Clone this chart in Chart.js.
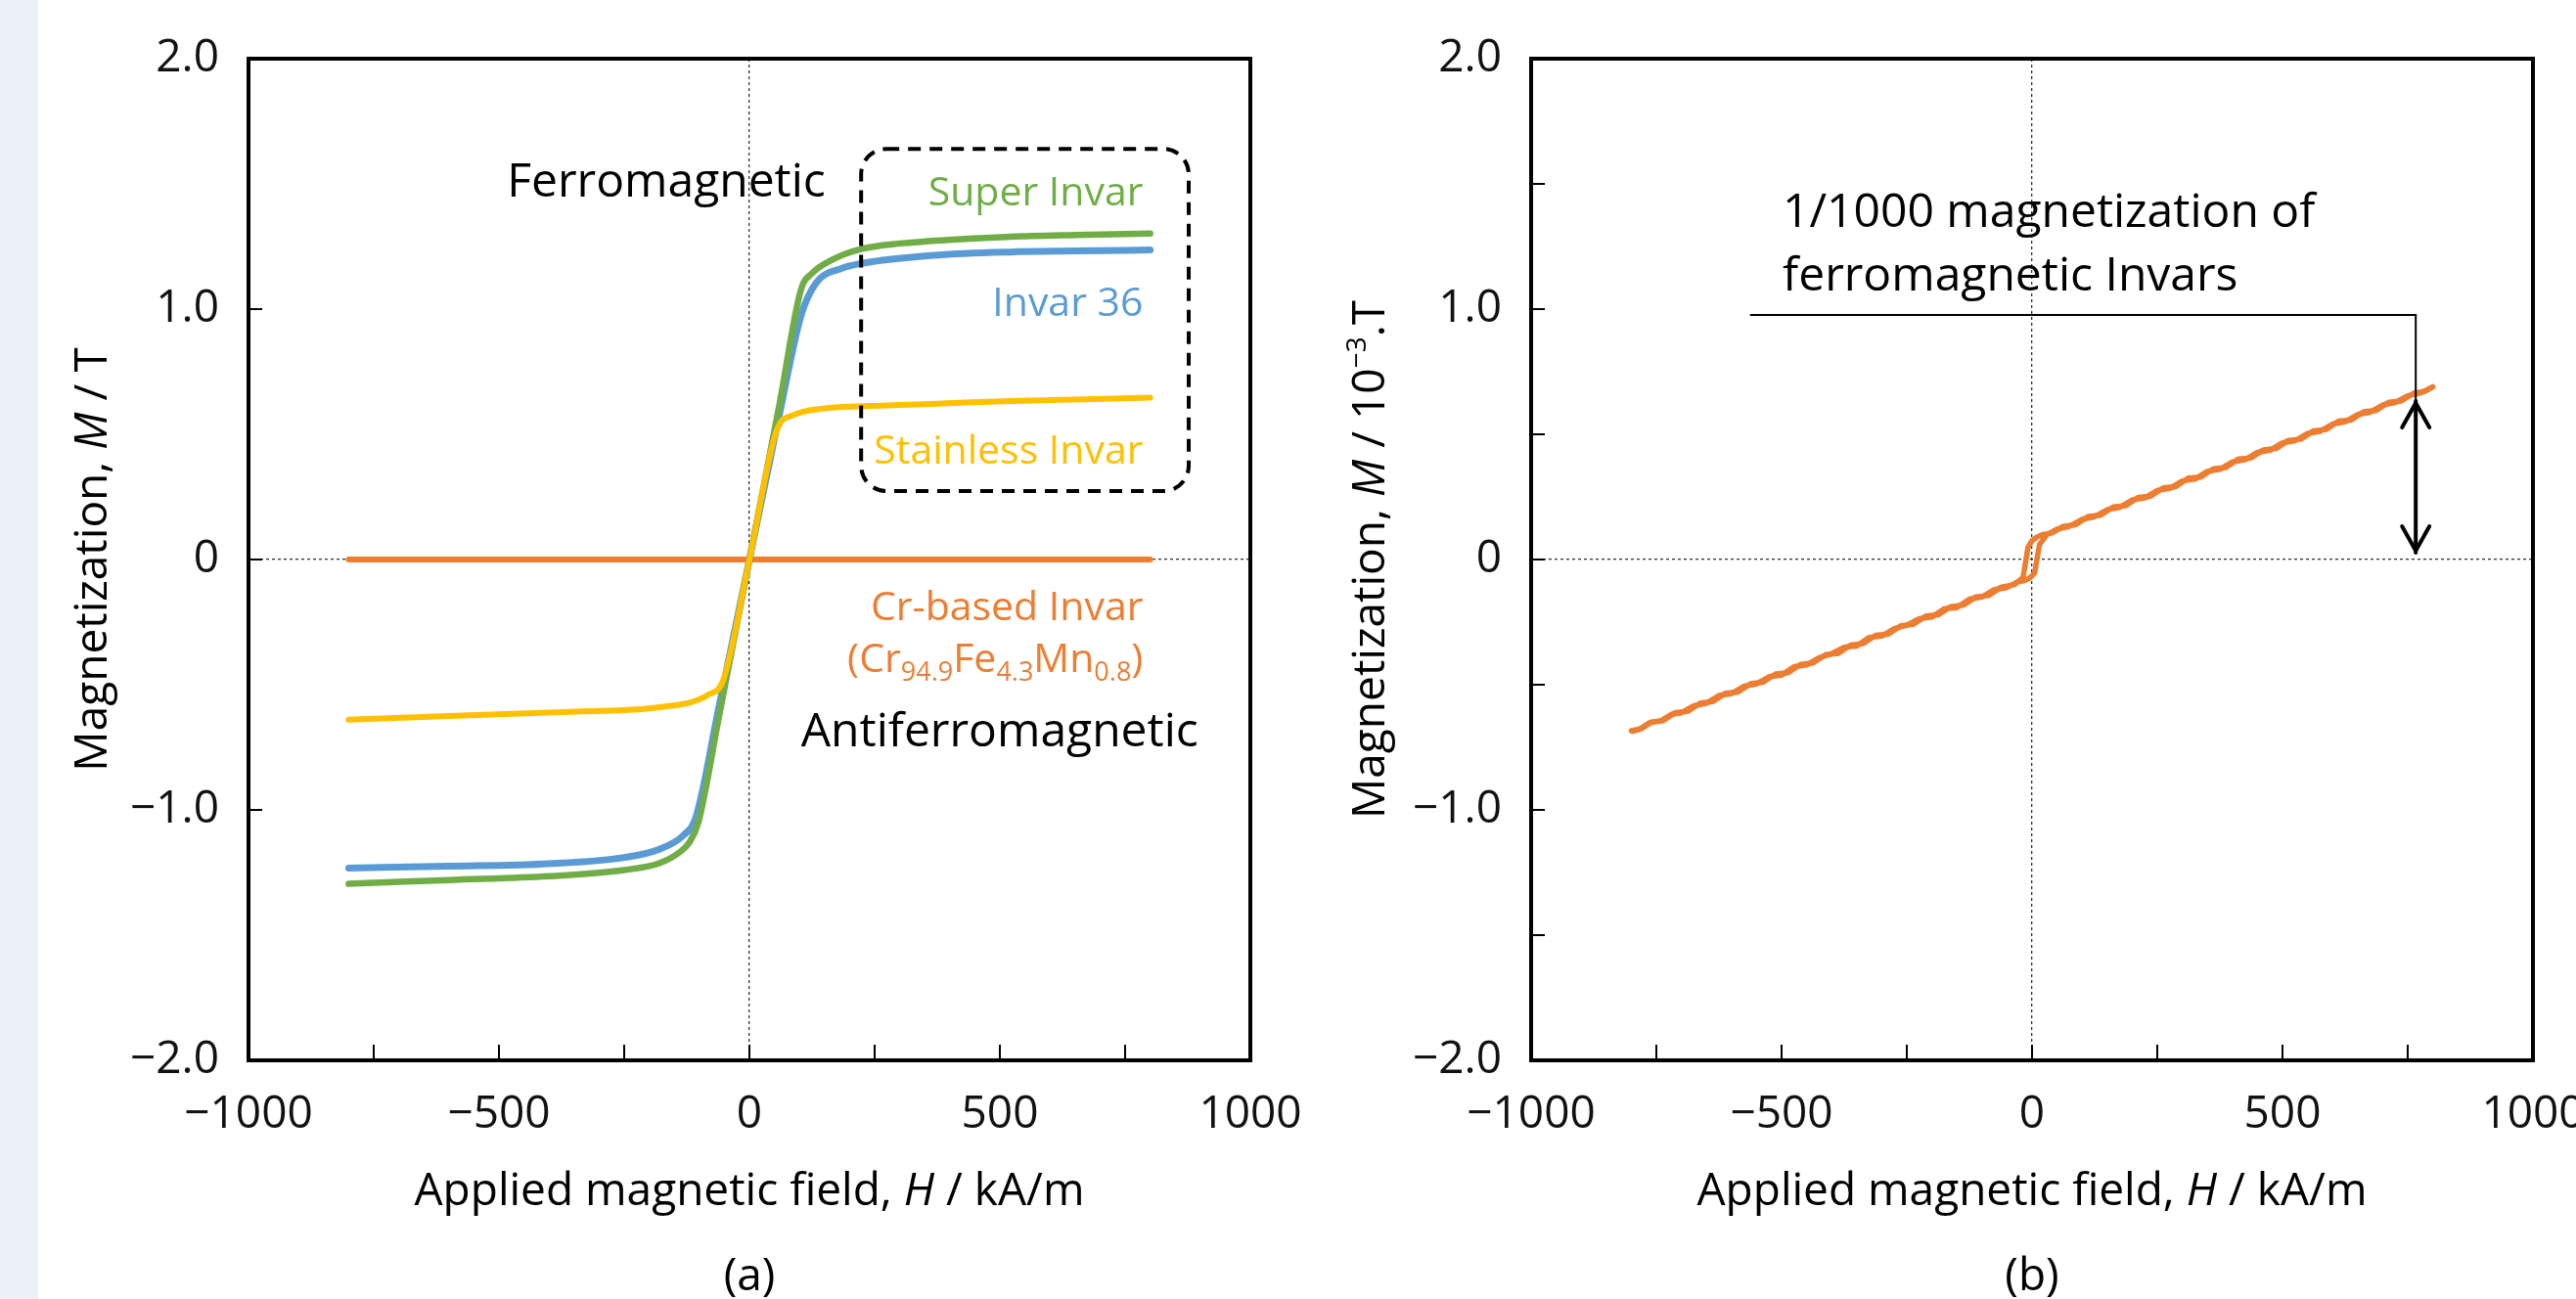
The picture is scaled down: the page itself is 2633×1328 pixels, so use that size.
<!DOCTYPE html>
<html><head><meta charset="utf-8">
<script src="https://cdn.jsdelivr.net/npm/chart.js@4.4.0/dist/chart.umd.min.js"></script>
<style>
html,body{margin:0;padding:0;background:#fff;width:2633px;height:1328px;overflow:hidden;}
#strip{position:absolute;left:0;top:0;width:39px;height:1328px;background:#EAF1F8;}
#ca{position:absolute;left:0;top:0;}
#cb{position:absolute;left:1320px;top:0;}
</style></head><body>
<div id="strip"></div>
<canvas id="ca" width="1400" height="1328"></canvas>
<canvas id="cb" width="1313" height="1328"></canvas>
<script>
// ---------- Panel (a) data: H (kA/m), M (T) ----------
const superH = [-800,-600,-400,-250,-180,-140,-120,-102,-60,0,60,103,125,163,223,372,521,650,800];
const superM = [-1.295,-1.28,-1.265,-1.24,-1.213,-1.17,-1.13,-1.05,-0.62,0.0,0.62,1.078,1.143,1.195,1.24,1.273,1.289,1.296,1.302];
const invarH = [-800,-600,-400,-250,-180,-131,-107,-60,0,60,103,133,185,223,372,521,650,800];
const invarM = [-1.232,-1.225,-1.215,-1.19,-1.157,-1.10,-1.03,-0.58,0,0.58,0.974,1.104,1.163,1.182,1.215,1.228,1.232,1.236];
const stainH = [-800,-600,-344,-180,-82,-52,0,55,88,148,223,372,521,800];
const stainM = [-0.64,-0.625,-0.607,-0.59,-0.54,-0.48,0,0.518,0.577,0.603,0.612,0.622,0.633,0.646];
const crH = [-800,800];
const crM = [0,0];

// ---------- Panel (b) data: H (kA/m), M (10^-3 T) ----------
const bUpH = [-800,-780,-760,-740,-720,-700,-675,-650,-625,-600,-575,-550,-525,-500,-475,-450,-425,-400,-375,-350,-325,-300,-275,-250,-225,-200,-175,-150,-125,-100,-75,-50,-30,-15,-5,5,15,30,50,75,100,125,150,175,200,225,250,275,300,325,350,375,400,425,450,475,500,525,550,575,600,625,650,675,700,725,750,775,795];
const bUpM = [-0.683,-0.676,-0.650,-0.643,-0.618,-0.612,-0.584,-0.574,-0.543,-0.536,-0.506,-0.497,-0.468,-0.462,-0.428,-0.421,-0.392,-0.376,-0.350,-0.346,-0.311,-0.306,-0.276,-0.262,-0.236,-0.230,-0.196,-0.192,-0.158,-0.150,-0.120,-0.112,-0.090,-0.084,-0.074,-0.055,0.060,0.100,0.121,0.133,0.160,0.171,0.199,0.208,0.238,0.246,0.276,0.284,0.314,0.321,0.352,0.360,0.390,0.398,0.428,0.436,0.466,0.474,0.503,0.512,0.541,0.550,0.579,0.588,0.617,0.627,0.654,0.665,0.684];
const bDownH = [800,785,762,737,712,687,662,637,612,587,562,537,512,487,462,437,412,387,362,337,312,287,262,237,212,187,162,137,112,87,62,40,22,10,0,-8,-18,-35,-62,-87,-112,-137,-162,-187,-212,-237,-262,-287,-312,-337,-362,-387,-412,-437,-462,-487,-512,-537,-562,-587,-612,-637,-662,-687,-712,-737,-762,-785,-798];
const bDownM = [0.690,0.672,0.664,0.633,0.628,0.595,0.590,0.557,0.553,0.519,0.514,0.481,0.476,0.443,0.438,0.405,0.401,0.367,0.362,0.329,0.325,0.291,0.286,0.253,0.248,0.215,0.210,0.177,0.172,0.139,0.132,0.106,0.100,0.090,0.075,0.050,-0.072,-0.100,-0.111,-0.144,-0.149,-0.182,-0.188,-0.221,-0.226,-0.259,-0.265,-0.298,-0.303,-0.336,-0.342,-0.375,-0.380,-0.413,-0.419,-0.452,-0.457,-0.490,-0.496,-0.529,-0.534,-0.567,-0.573,-0.606,-0.611,-0.644,-0.650,-0.679,-0.686];

// ---------- axis ticks ----------
const xMin = -1000, xMax = 1000, xStep = 250, xLabelEvery = 500;
const yMin = -2, yMax = 2, yStepA = 1, yStepB = 0.5;

const FONT = '"Open Sans", "Noto Sans", sans-serif';
const C_GREEN = '#70AD47', C_BLUE = '#5B9BD5', C_YELLOW = '#FFC000', C_ORANGE = '#ED7D31';

const pts = (hs, ms) => hs.map((h, i) => ({x: h, y: ms[i]}));
const fmtX = v => v === 0 ? '0' : (v < 0 ? '\u2212' : '') + Math.abs(v);
const fmtY = v => Math.abs(v) < 1e-9 ? '0' : (v < 0 ? '\u2212' : '') + Math.abs(v).toFixed(1);

function drawRich(ctx, segs, x, y, align, rot, base) {
  ctx.save();
  ctx.translate(x, y);
  if (rot) ctx.rotate(rot);
  let w = 0;
  const ws = segs.map(s => {
    ctx.font = (s.italic ? 'italic ' : '') + s.size + 'px ' + FONT;
    const m = ctx.measureText(s.t).width; w += m; return m;
  });
  let cx = align === 'center' ? -w / 2 : (align === 'right' ? -w : 0);
  const bl = base * 0.36;
  ctx.textBaseline = 'alphabetic';
  ctx.textAlign = 'left';
  segs.forEach((s, i) => {
    ctx.font = (s.italic ? 'italic ' : '') + s.size + 'px ' + FONT;
    ctx.fillStyle = s.color || '#000';
    ctx.fillText(s.t, cx, bl + (s.dy || 0));
    cx += ws[i];
  });
  ctx.restore();
}

const frameTicks = {
  id: 'frameTicks',
  afterDatasetsDraw(chart) {
    const {ctx, chartArea: a, scales: {x, y}} = chart;
    ctx.save();
    ctx.strokeStyle = '#000';
    ctx.lineWidth = 2;
    x.ticks.forEach(t => {
      if (t.value > x.min && t.value < x.max) {
        const p = x.getPixelForValue(t.value);
        ctx.beginPath(); ctx.moveTo(p, a.bottom); ctx.lineTo(p, a.bottom - 16); ctx.stroke();
      }
    });
    y.ticks.forEach(t => {
      if (t.value > y.min && t.value < y.max) {
        const p = y.getPixelForValue(t.value);
        ctx.beginPath(); ctx.moveTo(a.left, p); ctx.lineTo(a.left + 14, p); ctx.stroke();
      }
    });
    ctx.lineWidth = 4;
    ctx.strokeRect(a.left, a.top, a.right - a.left, a.bottom - a.top);
    ctx.restore();
  }
};

function makeOptions(yStep, axisW, padRight) {
  return {
    responsive: false, devicePixelRatio: 1, animation: false,
    layout: {padding: {left: 0, top: 60, right: padRight, bottom: 0}},
    plugins: {legend: {display: false}, tooltip: {enabled: false}},
    scales: {
      x: {
        type: 'linear', min: xMin, max: xMax,
        ticks: {stepSize: xStep, autoSkip: false, maxRotation: 0, padding: 28, color: '#111',
          font: {family: FONT, size: 46},
          callback: v => (v % xLabelEvery === 0 ? fmtX(v) : '')},
        grid: {drawTicks: false, lineWidth: 1.3,
          color: c => (c.tick && c.tick.value === 0 ? '#333' : 'rgba(0,0,0,0)')},
        border: {display: false, dash: [3, 3]},
        afterFit: s => { s.height = 1328 - 1084; s.paddingLeft = 0; s.paddingRight = 0; }
      },
      y: {
        type: 'linear', min: yMin, max: yMax,
        ticks: {stepSize: yStep, autoSkip: false, padding: 30, color: '#111',
          font: {family: FONT, size: 46},
          callback: v => (Math.abs(v - Math.round(v)) < 1e-9 ? fmtY(v) : '')},
        grid: {drawTicks: false, lineWidth: 1.3,
          color: c => (c.tick && Math.abs(c.tick.value) < 1e-9 ? '#333' : 'rgba(0,0,0,0)')},
        border: {display: false, dash: [3, 3]},
        afterFit: s => { s.width = axisW; s.paddingTop = 0; s.paddingBottom = 0; }
      }
    }
  };
}

function drawA(chart) {
  const {ctx, scales: {x, y}} = chart;
  const X = v => x.getPixelForValue(v), Y = v => y.getPixelForValue(v);
  const l = X(223), r = X(877), t = Y(1.64), b = Y(0.273), rad = 26;
  ctx.save();
  ctx.strokeStyle = '#000'; ctx.lineWidth = 4; ctx.setLineDash([13, 9]);
  ctx.beginPath();
  ctx.moveTo(l + rad, t); ctx.lineTo(r - rad, t); ctx.arcTo(r, t, r, t + rad, rad);
  ctx.lineTo(r, b - rad); ctx.arcTo(r, b, r - rad, b, rad);
  ctx.lineTo(l + rad, b); ctx.arcTo(l, b, l, b - rad, rad);
  ctx.lineTo(l, t + rad); ctx.arcTo(l, t, l + rad, t, rad);
  ctx.closePath(); ctx.stroke();
  ctx.restore();
  const R = X(786);
  drawRich(ctx, [{t: 'Ferromagnetic', size: 48}], X(-484), Y(1.515), 'left', 0, 48);
  drawRich(ctx, [{t: 'Super Invar', size: 41, color: C_GREEN}], R, Y(1.47), 'right', 0, 41);
  drawRich(ctx, [{t: 'Invar 36', size: 41, color: C_BLUE}], R, Y(1.03), 'right', 0, 41);
  drawRich(ctx, [{t: 'Stainless Invar', size: 41, color: C_YELLOW}], R, Y(0.44), 'right', 0, 41);
  drawRich(ctx, [{t: 'Cr-based Invar', size: 41, color: C_ORANGE}], R, Y(-0.185), 'right', 0, 41);
  drawRich(ctx, [
    {t: '(Cr', size: 41, color: C_ORANGE},
    {t: '94.9', size: 27, dy: 9, color: C_ORANGE},
    {t: 'Fe', size: 41, color: C_ORANGE},
    {t: '4.3', size: 27, dy: 9, color: C_ORANGE},
    {t: 'Mn', size: 41, color: C_ORANGE},
    {t: '0.8', size: 27, dy: 9, color: C_ORANGE},
    {t: ')', size: 41, color: C_ORANGE}], R, Y(-0.39), 'right', 0, 41);
  drawRich(ctx, [{t: 'Antiferromagnetic', size: 48}], X(103), Y(-0.678), 'left', 0, 48);
}

function drawB(chart) {
  const {ctx, scales: {x, y}} = chart;
  const X = v => x.getPixelForValue(v), Y = v => y.getPixelForValue(v);
  drawRich(ctx, [{t: '1/1000 magnetization of', size: 48}], X(-498), Y(1.395), 'left', 0, 48);
  drawRich(ctx, [{t: 'ferromagnetic Invars', size: 48}], X(-498), Y(1.14), 'left', 0, 48);
  ctx.save();
  ctx.strokeStyle = '#000';
  ctx.lineWidth = 2;
  const ax = X(766), lead = Y(0.977), top = Y(0.633), bot = Y(0.027);
  ctx.beginPath(); ctx.moveTo(X(-563), lead); ctx.lineTo(ax, lead); ctx.lineTo(ax, top); ctx.stroke();
  ctx.lineWidth = 4; ctx.lineCap = 'round'; ctx.lineJoin = 'round';
  ctx.beginPath(); ctx.moveTo(ax, top); ctx.lineTo(ax, bot); ctx.stroke();
  ctx.beginPath(); ctx.moveTo(ax - 14, top + 27); ctx.lineTo(ax, top + 2); ctx.lineTo(ax + 14, top + 27); ctx.stroke();
  ctx.beginPath(); ctx.moveTo(ax - 14, bot - 27); ctx.lineTo(ax, bot - 2); ctx.lineTo(ax + 14, bot - 27); ctx.stroke();
  ctx.restore();
}

const panelCfg = {
  ca: {ySegs: [{t: 'Magnetization, ', size: 46}, {t: 'M', size: 46, italic: true}, {t: ' / T', size: 46}],
       yOff: 162, label: '(a)', draw: drawA},
  cb: {ySegs: [{t: 'Magnetization, ', size: 46}, {t: 'M', size: 46, italic: true}, {t: ' / 10', size: 46},
               {t: '\u22123', size: 28, dy: -19}, {t: '.T', size: 46}],
       yOff: 167, label: '(b)', draw: drawB}
};

const titles = {
  id: 'titles',
  afterDraw(chart) {
    const {ctx, chartArea: a} = chart;
    const o = panelCfg[chart.canvas.id];
    const cxm = (a.left + a.right) / 2, cym = (a.top + a.bottom) / 2;
    drawRich(ctx, o.ySegs, a.left - o.yOff, cym, 'center', -Math.PI / 2, 46);
    drawRich(ctx, [
      {t: 'Applied magnetic field, ', size: 46},
      {t: 'H', size: 46, italic: true},
      {t: ' / kA/m', size: 46}], cxm, 1215, 'center', 0, 46);
    drawRich(ctx, [{t: o.label, size: 46}], cxm, 1302, 'center', 0, 46);
    o.draw(chart);
  }
};

const lineDs = (label, data, color, order, w) => ({
  label, data, showLine: true, borderColor: color, backgroundColor: color,
  borderWidth: w, pointRadius: 0, order, cubicInterpolationMode: 'monotone',
  borderCapStyle: 'round', borderJoinStyle: 'round'
});

new Chart(document.getElementById('ca'), {
  type: 'scatter',
  data: {datasets: [
    lineDs('Stainless Invar', pts(stainH, stainM), C_YELLOW, 1, 6),
    lineDs('Super Invar', pts(superH, superM), C_GREEN, 2, 6.5),
    lineDs('Invar 36', pts(invarH, invarM), C_BLUE, 3, 7),
    lineDs('Cr-based Invar', pts(crH, crM), C_ORANGE, 4, 6)
  ]},
  options: makeOptions(yStepA, 254, 122),
  plugins: [frameTicks, titles]
});

const bDs = (label, data) => ({label, data, showLine: true, borderColor: C_ORANGE,
  borderWidth: 5.5, pointRadius: 0, tension: 0, borderJoinStyle: 'round', borderCapStyle: 'round'});

new Chart(document.getElementById('cb'), {
  type: 'scatter',
  data: {datasets: [
    bDs('Cr-based Invar (increasing H)', pts(bUpH, bUpM)),
    bDs('Cr-based Invar (decreasing H)', pts(bDownH, bDownM))
  ]},
  options: makeOptions(yStepB, 245, 44),
  plugins: [frameTicks, titles]
});
</script>
</body></html>
